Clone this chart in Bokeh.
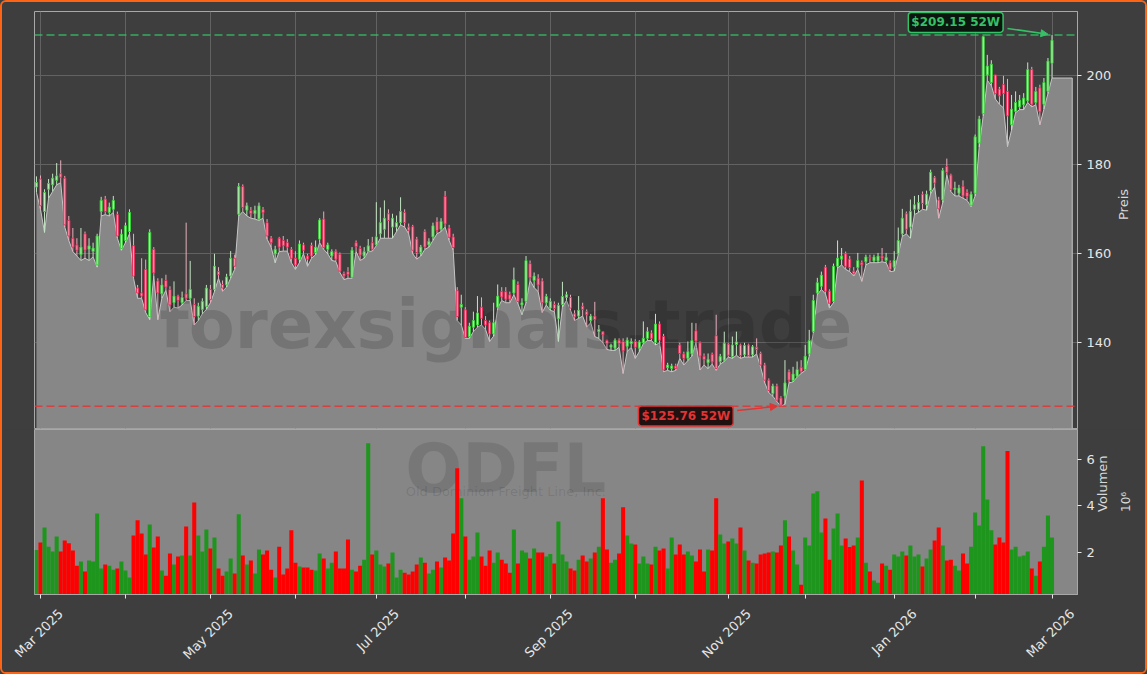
import math
import pandas as pd
from bokeh.plotting import figure
from bokeh.layouts import column
from bokeh.models import (ColumnDataSource, Range1d, FixedTicker, Span, Label,
                          Arrow, NormalHead, LinearAxis)
from bokeh.embed import file_html
from bokeh.resources import INLINE
from bokeh.core.properties import value

# ---------------- data ----------------
TICKER = "ODFL"
COMPANY = "Old Dominion Freight Line, Inc."
WATERMARK = "forexsignals.trade"
FIRST_DAY = "2025-02-28"
LAST_DAY = "2026-03-02"
HOLIDAYS = ["2025-04-18", "2025-05-26", "2025-06-19", "2025-07-04", "2025-09-01",
            "2025-11-27", "2025-12-25", "2026-01-01", "2026-01-19", "2026-02-16"]
TICK_LABELS = ["Mar 2025", "May 2025", "Jul 2025", "Sep 2025", "Nov 2025", "Jan 2026", "Mar 2026"]
PRICE_TICKS = [140, 160, 180, 200]
VOLUME_TICKS = [2, 4, 6]

OPEN = [175.0, 176.8, 169.5, 174.5, 175.5, 176.5, 178.0, 177.0, 167.5, 163.5,
        162.0, 159.8, 164.5, 161.0, 160.5, 157.5, 169.5, 172.3, 169.3, 170.0,
        168.8, 161.2, 163.0, 165.0, 161.8, 152.3, 151.2, 156.5, 145.9, 161.0,
        153.9, 151.0, 154.0, 152.0, 149.0, 150.5, 149.0, 151.0, 150.0, 148.6,
        146.0, 147.5, 148.2, 152.0, 152.0, 156.0, 153.1, 153.0, 155.0, 159.0,
        168.9, 175.1, 169.8, 169.7, 169.0, 167.8, 170.0, 167.0, 163.5, 160.0,
        163.5, 163.0, 162.5, 161.0, 159.0, 158.8, 162.0, 159.5, 161.9, 160.3,
        163.3, 167.8, 161.0, 159.5, 160.6, 159.9, 155.6, 156.0, 154.7, 162.5,
        161.2, 159.5, 160.5, 162.5, 162.0, 164.5, 165.5, 169.0, 166.0, 166.0,
        167.0, 169.3, 166.0, 166.1, 163.3, 160.3, 165.0, 162.0, 163.8, 167.3,
        165.5, 172.9, 165.8, 163.8, 151.7, 148.0, 147.4, 141.4, 143.5, 144.0,
        148.0, 145.0, 144.5, 142.0, 148.0, 151.5, 151.5, 150.8, 151.2, 153.1,
        148.5, 149.3, 157.8, 154.0, 154.5, 153.9, 149.0, 147.8, 148.6, 145.4,
        148.6, 150.2, 150.2, 146.5, 146.0, 148.2, 147.0, 145.0, 146.0, 142.5,
        142.5, 140.5, 139.0, 138.8, 140.6, 140.3, 139.2, 139.8, 140.3, 138.8,
        140.0, 141.0, 142.2, 140.1, 144.2, 141.4, 134.4, 134.2, 134.8, 139.5,
        137.5, 136.5, 137.5, 142.7, 140.0, 137.0, 135.5, 137.4, 141.6, 135.8,
        136.1, 139.7, 136.9, 139.6, 139.5, 137.3, 139.5, 137.3, 139.0, 137.6,
        135.0, 131.6, 128.6, 130.3, 127.6, 128.0, 133.5, 131.5, 132.5, 134.5,
        134.0, 137.5, 142.5, 151.2, 152.7, 157.0, 151.6, 149.3, 157.2, 158.8,
        160.0, 158.8, 156.1, 156.9, 158.0, 158.2, 159.2, 158.4, 158.4, 159.5,
        158.5, 158.0, 157.0, 160.0, 164.5, 169.0, 166.0, 170.0, 170.0, 173.4,
        171.0, 174.2, 177.1, 172.1, 172.1, 179.6, 177.7, 174.4, 173.6, 175.2,
        173.8, 170.9, 173.6, 184.9, 191.5, 200.2, 198.5, 200.2, 197.0, 198.0,
        196.5, 189.0, 192.0, 193.0, 193.5, 194.4, 201.4, 194.0, 197.3, 193.6,
        196.5, 202.8]

HIGH = [177.4, 177.6, 174.5, 176.8, 178.0, 180.4, 181.0, 177.5, 168.5, 165.8,
        163.5, 165.8, 165.0, 163.5, 162.5, 164.5, 172.8, 173.0, 171.5, 173.0,
        169.5, 165.5, 167.0, 170.0, 164.5, 153.0, 159.0, 158.7, 165.5, 161.5,
        154.5, 154.5, 155.3, 152.7, 153.8, 150.8, 151.5, 167.0, 158.4, 150.0,
        149.0, 150.0, 153.0, 153.0, 160.0, 157.0, 154.0, 155.5, 160.6, 159.8,
        175.9, 175.6, 171.5, 170.5, 170.8, 171.5, 170.5, 167.8, 164.0, 161.8,
        163.8, 164.0, 163.3, 161.5, 160.6, 163.0, 162.5, 160.0, 162.5, 163.0,
        168.0, 169.5, 162.5, 161.0, 161.0, 160.3, 156.0, 157.0, 161.5, 163.0,
        161.8, 161.5, 163.3, 163.8, 171.6, 170.4, 172.0, 170.0, 169.0, 168.6,
        172.7, 170.0, 166.8, 166.5, 163.8, 162.0, 165.5, 163.5, 167.0, 168.2,
        168.0, 174.1, 166.5, 164.5, 152.5, 150.8, 148.0, 144.5, 147.0, 150.5,
        150.2, 146.0, 145.0, 149.0, 153.1, 152.5, 152.5, 151.5, 156.9, 153.8,
        150.0, 159.5, 158.5, 155.8, 155.4, 154.5, 151.0, 150.0, 149.3, 149.0,
        153.7, 151.5, 150.8, 147.3, 150.5, 149.0, 147.5, 146.5, 149.2, 144.0,
        142.5, 140.7, 139.8, 141.0, 141.0, 141.0, 141.2, 141.0, 140.8, 140.6,
        144.8, 143.5, 142.8, 146.5, 144.8, 142.0, 135.5, 135.3, 135.3, 140.0,
        138.0, 140.3, 144.5, 144.4, 140.3, 137.6, 137.6, 137.8, 146.3, 137.5,
        142.5, 140.0, 141.4, 142.5, 139.8, 140.0, 139.8, 139.5, 141.0, 138.0,
        135.5, 132.0, 130.8, 130.8, 128.0, 136.1, 134.0, 134.6, 135.8, 136.1,
        139.5, 142.9, 150.8, 154.6, 156.0, 157.5, 152.0, 157.8, 163.0, 161.3,
        160.5, 159.5, 157.0, 160.2, 158.5, 159.8, 159.8, 159.8, 160.2, 161.3,
        160.2, 158.5, 160.6, 165.9, 170.1, 169.5, 172.2, 173.0, 173.2, 174.0,
        174.2, 178.9, 177.5, 172.8, 179.3, 181.4, 178.0, 176.2, 175.5, 176.5,
        174.5, 174.0, 186.8, 191.0, 209.0, 204.7, 203.5, 200.2, 197.5, 200.0,
        199.3, 195.7, 196.5, 195.7, 196.1, 203.0, 202.0, 197.5, 198.0, 199.5,
        204.0, 209.15]

LOW = [173.8, 170.0, 164.8, 172.5, 174.0, 175.5, 176.0, 166.0, 163.0, 160.5,
       159.5, 158.5, 159.0, 158.5, 159.3, 157.0, 168.5, 168.8, 168.5, 169.3,
       163.5, 160.8, 162.5, 164.5, 154.5, 150.0, 150.0, 146.8, 145.2, 155.0,
       145.2, 150.0, 151.8, 147.0, 148.0, 147.8, 148.5, 149.5, 149.5, 144.0,
       145.0, 146.5, 147.5, 149.0, 151.5, 154.5, 151.6, 152.5, 154.5, 156.5,
       168.5, 169.5, 168.5, 168.0, 167.8, 167.5, 168.0, 163.3, 161.5, 158.0,
       160.5, 160.6, 160.6, 158.0, 156.5, 158.0, 160.0, 157.2, 159.0, 159.8,
       162.5, 161.0, 160.0, 158.5, 158.3, 155.8, 154.2, 154.5, 154.5, 160.5,
       158.5, 159.0, 160.5, 160.6, 161.8, 163.5, 163.5, 163.5, 163.5, 165.0,
       166.5, 166.0, 164.5, 160.0, 158.8, 159.5, 161.0, 161.5, 163.0, 164.5,
       165.0, 166.0, 163.0, 160.8, 145.0, 144.0, 141.0, 141.0, 142.5, 143.5,
       144.0, 143.0, 140.3, 141.5, 147.8, 149.5, 149.0, 149.0, 150.8, 148.8,
       146.3, 149.0, 154.0, 152.4, 151.5, 146.8, 148.5, 147.3, 147.0, 140.3,
       148.0, 149.5, 147.3, 145.0, 145.5, 146.0, 143.6, 144.5, 141.4, 141.0,
       140.0, 138.5, 138.3, 138.3, 139.0, 133.1, 138.0, 139.0, 136.5, 138.0,
       139.8, 140.5, 140.5, 139.5, 140.0, 133.5, 133.8, 133.5, 133.8, 136.5,
       135.0, 136.0, 137.0, 140.0, 133.9, 135.0, 134.2, 135.2, 133.8, 135.2,
       135.8, 136.8, 136.5, 137.2, 136.5, 136.8, 136.8, 136.8, 137.5, 134.5,
       131.0, 128.8, 128.0, 126.8, 125.76, 126.2, 131.0, 131.2, 132.3, 133.1,
       133.8, 137.0, 142.2, 150.8, 152.0, 151.0, 147.8, 149.0, 156.8, 157.5,
       156.5, 156.0, 155.0, 156.5, 153.8, 157.5, 158.0, 158.0, 158.0, 158.2,
       158.0, 156.0, 156.1, 159.8, 163.9, 164.5, 163.5, 168.8, 169.3, 170.0,
       169.8, 173.5, 175.0, 168.0, 171.5, 177.8, 174.0, 173.0, 173.0, 172.5,
       172.0, 170.6, 173.0, 184.0, 191.0, 199.0, 197.8, 194.8, 193.6, 192.8,
       184.1, 187.8, 191.7, 192.4, 192.4, 194.0, 193.0, 193.5, 189.0, 192.5,
       196.0, 199.5]

CLOSE = [176.0, 170.8, 173.8, 175.8, 177.0, 177.5, 177.2, 166.5, 164.0, 161.5,
         160.8, 161.5, 160.8, 161.8, 161.3, 164.0, 172.0, 169.5, 170.5, 172.0,
         164.0, 164.4, 166.3, 169.3, 155.0, 151.2, 150.5, 147.4, 164.8, 155.7,
         151.2, 153.0, 152.5, 148.5, 150.5, 149.5, 150.2, 150.0, 152.0, 145.9,
         148.2, 149.3, 152.3, 149.7, 157.2, 155.3, 152.3, 154.8, 159.0, 157.2,
         175.1, 170.4, 170.8, 169.0, 169.8, 170.8, 169.2, 164.0, 162.5, 161.0,
         161.5, 161.8, 161.5, 159.0, 157.5, 162.2, 160.8, 158.8, 159.5, 161.5,
         167.6, 161.4, 162.0, 160.5, 158.8, 156.1, 155.0, 155.3, 160.8, 161.6,
         159.7, 160.5, 161.8, 161.0, 163.8, 167.0, 168.0, 167.5, 168.0, 167.0,
         169.5, 167.0, 165.3, 160.8, 160.3, 161.5, 161.5, 162.8, 166.3, 165.2,
         167.3, 166.7, 163.7, 161.4, 145.9, 148.6, 141.2, 143.7, 145.0, 146.7,
         145.5, 144.0, 142.0, 144.5, 150.5, 150.3, 149.8, 149.8, 154.2, 149.3,
         149.0, 158.5, 154.6, 155.0, 153.0, 149.0, 150.4, 149.3, 147.7, 148.4,
         150.4, 150.8, 147.8, 145.8, 147.3, 147.5, 146.3, 146.0, 145.2, 143.0,
         141.8, 139.8, 139.5, 140.6, 139.8, 138.2, 140.6, 140.3, 139.0, 140.2,
         141.0, 142.5, 141.0, 144.2, 140.6, 133.9, 135.0, 134.8, 134.2, 137.6,
         136.5, 138.0, 140.5, 140.4, 137.0, 136.2, 136.3, 135.7, 134.2, 136.9,
         139.9, 137.2, 139.5, 140.2, 137.1, 139.4, 137.1, 139.1, 138.5, 135.0,
         131.6, 129.3, 130.3, 127.1, 126.0, 131.0, 131.6, 133.0, 134.0, 133.5,
         137.0, 140.5, 149.5, 153.5, 155.2, 151.6, 148.9, 157.2, 159.0, 159.5,
         157.2, 156.9, 155.5, 158.5, 157.5, 159.3, 159.0, 159.3, 159.5, 159.0,
         159.2, 156.5, 158.5, 163.0, 168.0, 165.5, 169.5, 171.0, 171.5, 171.3,
         173.4, 178.3, 175.9, 170.1, 178.7, 178.3, 174.5, 174.8, 174.8, 173.0,
         172.9, 173.4, 186.3, 190.3, 208.8, 202.2, 202.6, 196.0, 195.5, 196.0,
         191.0, 192.5, 194.0, 194.5, 195.0, 201.4, 193.6, 196.5, 191.9, 198.5,
         203.3, 208.0]

# volume in millions of shares
VOLUME = [2.10, 2.42, 3.06, 2.24, 2.03, 2.68, 2.03, 2.50, 2.39, 2.07,
          1.42, 1.60, 1.17, 1.64, 1.60, 3.67, 1.30, 1.47, 1.42, 1.25,
          1.30, 1.60, 1.21, 0.91, 2.72, 3.37, 2.81, 1.90, 3.19, 2.20,
          2.68, 1.21, 0.99, 1.94, 1.47, 1.81, 1.86, 3.11, 1.86, 4.14,
          2.72, 2.03, 2.98, 2.16, 2.63, 1.30, 0.99, 1.17, 1.73, 1.08,
          3.63, 1.86, 1.47, 1.64, 1.08, 2.12, 1.90, 2.07, 1.25, 0.91,
          2.24, 1.04, 1.30, 2.94, 1.55, 1.38, 1.34, 1.34, 1.25, 1.21,
          1.94, 1.73, 1.30, 1.55, 2.03, 1.30, 1.30, 2.55, 1.25, 1.17,
          1.42, 1.68, 6.69, 1.90, 2.07, 1.47, 1.38, 1.51, 1.99, 0.91,
          1.25, 1.12, 1.04, 1.17, 1.47, 1.77, 1.55, 1.08, 1.25, 1.60,
          1.34, 1.77, 1.64, 2.81, 5.61, 4.32, 2.68, 1.68, 1.81, 2.85,
          1.81, 1.42, 2.07, 1.55, 1.99, 1.68, 1.51, 1.12, 2.98, 1.51,
          2.07, 1.99, 1.73, 2.16, 1.99, 1.99, 1.81, 1.92, 1.51, 3.32,
          1.90, 1.60, 1.30, 1.21, 1.68, 1.86, 1.60, 1.73, 1.99, 2.24,
          4.32, 2.12, 1.55, 1.68, 1.94, 3.93, 2.72, 2.37, 2.33, 1.51,
          1.81, 1.51, 1.47, 2.24, 2.07, 2.16, 1.30, 2.63, 1.90, 2.33,
          1.90, 2.03, 1.86, 1.60, 2.12, 1.17, 2.12, 2.07, 4.32, 2.76,
          2.37, 2.46, 2.59, 2.37, 3.06, 2.07, 1.64, 1.55, 1.51, 1.90,
          1.94, 1.99, 2.03, 1.99, 2.29, 3.37, 2.68, 2.07, 1.47, 0.60,
          2.63, 2.29, 4.53, 4.62, 2.85, 3.45, 1.68, 3.02, 3.67, 2.29,
          2.59, 2.22, 2.29, 2.63, 5.09, 1.55, 1.17, 0.78, 0.69, 1.51,
          1.42, 1.25, 1.90, 1.81, 2.03, 1.86, 2.29, 1.81, 1.90, 1.38,
          1.73, 2.12, 2.50, 3.06, 2.29, 1.64, 1.68, 1.42, 1.21, 1.94,
          1.51, 2.24, 3.71, 3.15, 6.56, 4.27, 2.94, 2.33, 2.63, 2.42,
          6.35, 2.12, 2.24, 1.81, 1.86, 2.03, 1.30, 0.99, 1.60, 2.24,
          3.58, 2.63]

# ---------------- derived ----------------
dates = pd.bdate_range(FIRST_DAY, LAST_DAY)
dates = dates[~dates.isin(pd.to_datetime(HOLIDAYS))]
n = len(CLOSE)
idx = list(range(n))
month_ticks = [i for i in range(1, n) if dates[i].month != dates[i - 1].month]
label_pos = [next(i for i in month_ticks if dates[i].strftime("%b %Y") == t) for t in TICK_LABELS]

up = [c >= o for o, c in zip(OPEN, CLOSE)]

BG = "#3e3e3e"
FILL = "#878787"
VOL_BG = "#868686"
FRAME = "#a8a8a8"
GRID = "#626262"
TXT = "#e6e6e6"
LBL = "#d8d8d8"
UP_BODY, UP_EDGE, UP_WICK = "#bff0bf", "#3ccf3c", "#c4e4c4"
DN_BODY, DN_EDGE, DN_WICK = "#ffa5b9", "#e8305c", "#e6aebc"
VOL_UP, VOL_DN = "#1e961e", "#ff0000"
HI_COL, LO_COL = "#36c067", "#e03535"

X_RANGE = Range1d(-0.48, 257.3)
P_LO, P_HI = 120.74, 214.45
V_LO, V_HI = 0.18, 7.28
W = 1143


def style_axis(ax):
    ax.axis_line_color = FRAME
    ax.major_tick_line_color = TXT
    ax.major_tick_out = 4
    ax.major_tick_in = 0
    ax.minor_tick_line_color = None
    ax.major_label_text_color = TXT
    ax.major_label_text_font = "DejaVu Sans"
    ax.major_label_text_font_size = "13px"
    ax.major_label_standoff = 5
    ax.axis_label_text_font = "DejaVu Sans"
    ax.axis_label_text_font_style = "normal"
    ax.axis_label_text_font_size = "13px"
    ax.axis_label_text_color = LBL
    ax.axis_label_standoff = 6


# ---------------- price panel ----------------
p = figure(width=W, height=427, x_range=X_RANGE, y_range=Range1d(P_LO, P_HI),
           output_backend="svg", toolbar_location=None, x_axis_location=None,
           y_axis_location="right", min_border_left=32, min_border_right=68,
           min_border_top=9, min_border_bottom=1, background_fill_color=BG,
           border_fill_color=BG, outline_line_color=FRAME)
p.xgrid.ticker = FixedTicker(ticks=month_ticks)
p.xgrid.grid_line_color = GRID
p.ygrid.grid_line_color = GRID
ya = p.yaxis[0]
ya.ticker = FixedTicker(ticks=PRICE_TICKS)
style_axis(ya)
ya.axis_label = "Preis"
ya.axis_label_orientation = math.pi / 2
ya.axis_label_standoff = 9

# area under the lows, carried on past the last session
fill_x = idx + [n - 1 + 5]
fill_y = LOW + [LOW[-1]]
p.varea(x=fill_x, y1=[P_LO] * len(fill_x), y2=fill_y, fill_color=FILL)
p.line(x=fill_x + [fill_x[-1]], y=fill_y + [P_LO], line_color="#c6c6c6", line_width=1)

p.text(x=[116], y=[144.0], text=[WATERMARK], text_font=value("DejaVu Sans"),
       text_font_style="bold", text_font_size="67px", text_color="#000000",
       text_alpha=0.14, text_align="center", text_baseline="alphabetic")

src = ColumnDataSource(dict(
    x=idx, o=OPEN, h=HIGH, l=LOW, c=CLOSE,
    top=[max(o, c) for o, c in zip(OPEN, CLOSE)],
    bot=[min(o, c) for o, c in zip(OPEN, CLOSE)],
    body=[UP_BODY if u else DN_BODY for u in up],
    edge=[UP_EDGE if u else DN_EDGE for u in up],
    wick=[UP_WICK if u else DN_WICK for u in up],
    vol=VOLUME,
    vcol=[VOL_UP if u else VOL_DN for u in up],
))
p.segment(x0="x", y0="l", x1="x", y1="h", source=src, line_color="wick", line_width=1)
p.vbar(x="x", width=0.5, top="top", bottom="bot", source=src,
       fill_color="body", line_color="edge", line_width=1)

hi = max(HIGH)
hi_i = HIGH.index(hi)
lo = min(LOW)
lo_i = LOW.index(lo)
p.add_layout(Span(location=hi, dimension="width", line_color=HI_COL, line_alpha=0.85,
                  line_dash="8 4", line_width=1.5))
p.add_layout(Span(location=lo, dimension="width", line_color=LO_COL, line_alpha=0.85,
                  line_dash="8 4", line_width=1.5))
p.add_layout(Label(x=hi_i - 23.8, y=hi + 2.85, text=f"${hi:.2f} 52W",
                   text_align="center", text_baseline="middle", text_font="DejaVu Sans",
                   text_font_style="bold", text_font_size="12px", text_color=HI_COL,
                   background_fill_color="#08140c", background_fill_alpha=0.95,
                   border_line_color=HI_COL, border_line_width=1.5, padding=3,
                   border_radius=3))
p.add_layout(Arrow(end=NormalHead(size=7, fill_color=HI_COL, line_color=HI_COL),
                   x_start=hi_i - 11, y_start=hi + 1.5, x_end=hi_i - 1, y_end=hi + 0.2,
                   line_color=HI_COL, line_width=1.5))
p.add_layout(Label(x=lo_i - 23.5, y=lo - 2.2, text=f"${lo:.2f} 52W",
                   text_align="center", text_baseline="middle", text_font="DejaVu Sans",
                   text_font_style="bold", text_font_size="12px", text_color=LO_COL,
                   background_fill_color="#1a0909", background_fill_alpha=0.95,
                   border_line_color=LO_COL, border_line_width=1.5, padding=3,
                   border_radius=3))
p.add_layout(Arrow(end=NormalHead(size=7, fill_color=LO_COL, line_color=LO_COL),
                   x_start=lo_i - 10.8, y_start=lo - 1.0, x_end=lo_i - 0.9, y_end=lo,
                   line_color=LO_COL, line_width=1.5))

# ---------------- volume panel ----------------
v = figure(width=W, height=243, x_range=X_RANGE, y_range=Range1d(V_LO, V_HI),
           output_backend="svg", toolbar_location=None, y_axis_location="right",
           min_border_left=32, min_border_right=68, min_border_top=0,
           min_border_bottom=78, background_fill_color=VOL_BG, border_fill_color=BG,
           outline_line_color=FRAME)
v.grid.visible = False
v.text(x=[116], y=[5.56], text=[TICKER], text_font=value("DejaVu Sans"),
       text_font_style="bold", text_font_size="67px", text_color="#000000",
       text_alpha=0.11, text_align="center", text_baseline="alphabetic")
v.text(x=[116], y=[4.62], text=[COMPANY], text_font=value("DejaVu Sans"),
       text_font_size="13px", text_color="#000000",
       text_alpha=0.11, text_align="center", text_baseline="alphabetic")
v.vbar(x="x", width=1.0, top="vol", bottom=0, source=src, fill_color="vcol",
       line_color=None)

vy = v.yaxis[0]
vy.ticker = FixedTicker(ticks=VOLUME_TICKS)
style_axis(vy)
vy.axis_label = "Volumen"
vy.axis_label_orientation = math.pi / 2
vy.axis_label_standoff = 5

# scale factor of the volume axis, as a second label further right
vexp = LinearAxis(ticker=FixedTicker(ticks=[]), axis_label="10⁶")
style_axis(vexp)
vexp.axis_line_color = None
vexp.major_tick_out = 0
vexp.major_label_standoff = 0
vexp.axis_label_orientation = math.pi / 2
vexp.axis_label_standoff = 5
vexp.axis_label_text_font_size = "12px"
v.add_layout(vexp, "right")

# tick marks at every month start
vx = v.xaxis[0]
vx.ticker = FixedTicker(ticks=month_ticks)
style_axis(vx)
vx.major_label_overrides = {t: "" for t in month_ticks}
vx.major_label_text_font_size = "0px"
vx.major_label_standoff = 0

# rotated month names, shifted so each name is centred on its tick
shift = 5
lab_ticks = [t + shift for t in label_pos]
lx = LinearAxis(ticker=FixedTicker(ticks=lab_ticks),
                major_label_overrides={t: s for t, s in zip(lab_ticks, TICK_LABELS)},
                major_label_orientation=math.pi / 4)
style_axis(lx)
lx.axis_line_color = None
lx.major_tick_line_color = None
lx.major_label_standoff = 9
v.add_layout(lx, "below")

layout = column(p, v, spacing=0)

html = file_html(layout, INLINE, title="ODFL")
html = html.replace(
    "</head>",
    "<style>html,body{margin:0;padding:0;background:" + BG + ";}"
    "body{box-sizing:border-box;width:1147px;height:674px;border:2px solid #ff6414;"
    "border-radius:6px;overflow:hidden;}</style></head>", 1)
open("out.html", "w").write(html)
